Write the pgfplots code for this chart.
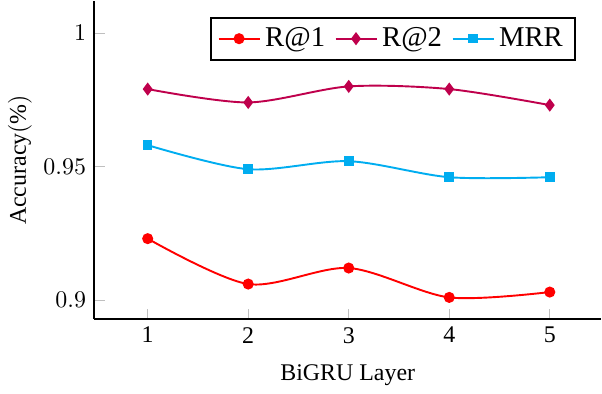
\documentclass[border=0pt]{standalone}
\usepackage{fontspec}
\setmainfont{Liberation Serif}
\usepackage{pgfplots}
\pgfplotsset{compat=1.18}
\definecolor{mcyan}{rgb}{0,0.68,0.94}
\definecolor{mpurple}{rgb}{0.75,0,0.3}
\begin{document}
\begin{tikzpicture}
\begin{axis}[
  scale only axis, width=212pt, height=133pt,
  axis x line*=bottom, axis y line*=left,
  axis line style={thick,-},
  xmin=0.47, xmax=5.51, ymin=0.893, ymax=1.012,
  xtick={1,2,3,4,5}, xticklabels={1,2,3,4,5},
  ytick={0.9,0.95,1},
  major tick style={gray!50, thin}, tick align=inside,
  xlabel={BiGRU Layer}, ylabel={$\mathrm{Accuracy}(\%)$},
  xlabel style={yshift=-2pt},
  ylabel style={yshift=-2pt},
  legend columns=3,
  legend style={at={(0.95,0.95)}, anchor=north east, draw=black, thick, font=\large,
    /tikz/every even column/.append style={column sep=2pt}},
  every axis plot/.append style={thick, smooth},
]
\addplot[red, mark=*, mark size=1.9pt] coordinates {(1,0.923) (2,0.906) (3,0.912) (4,0.901) (5,0.903)};
\addlegendentry{R@1}
\addplot[mpurple, mark=diamond*, mark size=2.1pt] coordinates {(1,0.979) (2,0.974) (3,0.980) (4,0.979) (5,0.973)};
\addlegendentry{R@2}
\addplot[mcyan, mark=square*, mark size=1.6pt] coordinates {(1,0.958) (2,0.949) (3,0.952) (4,0.946) (5,0.946)};
\addlegendentry{MRR}
\end{axis}
\end{tikzpicture}
\end{document}
